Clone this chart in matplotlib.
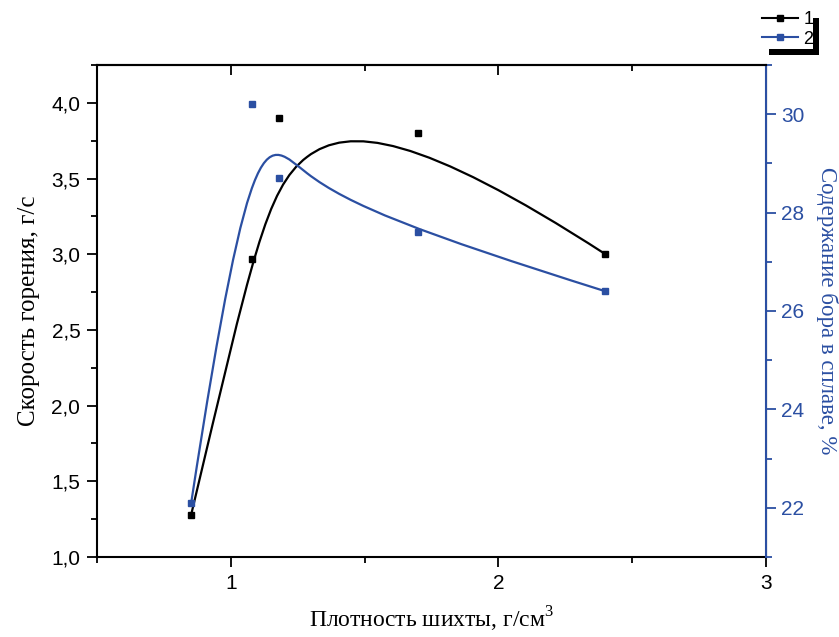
import numpy as np
import matplotlib.pyplot as plt
from matplotlib.path import Path
from matplotlib.patches import PathPatch, Rectangle
from matplotlib.ticker import MultipleLocator, FuncFormatter
from matplotlib.lines import Line2D

# Данные
plotnost = [0.852, 1.08, 1.18, 1.70, 2.40]          # г/см3
skorost = [1.28, 2.97, 3.90, 3.80, 3.00]            # г/с
bor = [22.1, 30.2, 28.7, 27.6, 26.4]                # %
nazvaniya = ['1', '2']

blue = '#2b4fa2'


# B-сплайн (как в Origin) через кривые Безье
def bspline_path(xs, ys):
    p = np.column_stack([xs, ys])
    m12 = (p[1] + p[2]) / 2
    m23 = (p[2] + p[3]) / 2
    r = (p[1] + 2 * p[2] + p[3]) / 4
    verts = [p[0], p[1], m12, r, m23, p[3], p[4]]
    codes = [Path.MOVETO] + [Path.CURVE4] * 6
    return Path(verts, codes)


fig = plt.figure(figsize=(8.39, 6.37), dpi=100)
ax = fig.add_axes([0.1156, 0.1256, 0.7974, 0.7724])
ax2 = ax.twinx()

ax.add_patch(PathPatch(bspline_path(plotnost, skorost), fc='none', ec='black', lw=1.6))
ax.plot(plotnost, skorost, 's', color='black', ms=4.5)
ax2.add_patch(PathPatch(bspline_path(plotnost, bor), fc='none', ec=blue, lw=1.6))
ax2.plot(plotnost, bor, 's', color=blue, ms=4.5)

ax.set_xlim(0.5, 3)
ax.set_ylim(1.0, 4.25)
ax2.set_ylim(21, 31)

comma = FuncFormatter(lambda v, pos: ('%.1f' % v).replace('.', ','))
ax.xaxis.set_major_locator(MultipleLocator(1))
ax.xaxis.set_minor_locator(MultipleLocator(0.5))
ax.yaxis.set_major_locator(MultipleLocator(0.5))
ax.yaxis.set_minor_locator(MultipleLocator(0.25))
ax.yaxis.set_major_formatter(comma)
ax2.yaxis.set_major_locator(MultipleLocator(2))
ax2.yaxis.set_minor_locator(MultipleLocator(1))

tf = dict(family='Liberation Sans', size=15)
for lab in ax.get_xticklabels() + ax.get_yticklabels():
    lab.set_fontproperties(tf)
for lab in ax2.get_yticklabels():
    lab.set_fontproperties(tf)
    lab.set_color(blue)

ax.tick_params(axis='both', which='major', direction='out', length=7, width=1.3, pad=5)
ax.tick_params(axis='both', which='minor', direction='out', length=4.5, width=1.3)
ax.tick_params(axis='x', which='both', top=True)
# верхние деления внутрь
for t in ax.xaxis.get_major_ticks() + ax.xaxis.get_minor_ticks():
    t.tick2line.set_marker(3)
ax2.tick_params(axis='y', which='major', direction='out', length=7, width=1.3, colors=blue, pad=4)
ax2.tick_params(axis='y', which='minor', direction='out', length=4.5, width=1.3, colors=blue)

for s in ['left', 'bottom', 'top']:
    ax.spines[s].set_linewidth(1.5)
ax2.spines['right'].set_color(blue)
ax2.spines['right'].set_linewidth(1.5)
ax2.spines['left'].set_visible(False)
ax2.spines['top'].set_linewidth(1.5)
ax2.spines['bottom'].set_visible(False)

ax.set_xlabel('Плотность шихты, г/см$^{\\mathregular{3}}$', family='Liberation Serif',
              size=17, labelpad=9)
ax.set_ylabel('Скорость горения, г/с', family='Liberation Serif', size=18, labelpad=8)
ax2.set_ylabel('Содержание бора в сплаве, %', family='Liberation Serif', size=16.5,
               color=blue, rotation=270, labelpad=24)

# легенда с тенью как в Origin
handles = [Line2D([], [], color='black', marker='s', ms=4.5, lw=1.5),
           Line2D([], [], color=blue, marker='s', ms=4.5, lw=1.5)]
fig.legend(handles, nazvaniya, loc='upper left', bbox_to_anchor=(762 / 839, 1 - 11 / 637),
           frameon=False, handlelength=2.0, handletextpad=0.3,
           borderpad=0, borderaxespad=0, labelspacing=0.15,
           prop={'family': 'Liberation Sans', 'size': 13})
fig.add_artist(Rectangle((813 / 839, 1 - 55 / 637), 6 / 839, 37 / 637,
                         transform=fig.transFigure, color='black', lw=0))
fig.add_artist(Rectangle((769 / 839, 1 - 55 / 637), 50 / 839, 6 / 637,
                         transform=fig.transFigure, color='black', lw=0))

fig.savefig('out.png', dpi=100)
